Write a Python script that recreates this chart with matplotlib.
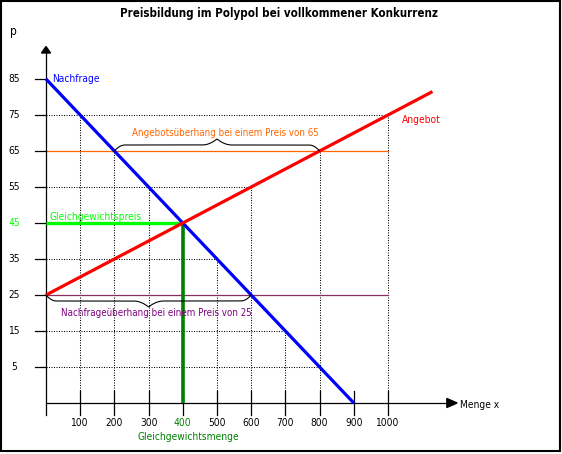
import numpy as np
import matplotlib
matplotlib.use("Agg")
import matplotlib.pyplot as plt
from matplotlib.patches import Rectangle

plt.rcParams['font.family'] = ['DejaVu Sans']
plt.rcParams['font.stretch'] = 'condensed'

# data
quantity_ticks = [100, 200, 300, 400, 500, 600, 700, 800, 900, 1000]
price_ticks = [5, 15, 25, 35, 45, 55, 65, 75, 85]
demand_x = [0, 900]
demand_p = [85, -5]
supply_x = [0, 1130]
supply_p = [25, 81.5]
eq_x, eq_p = 400, 45
surplus_price = 65    # Angebotsueberhang
shortage_price = 25   # Nachfrageueberhang
grid_prices = [5, 15, 35, 55, 75]

# pixel scale of the original drawing
QX = 0.342   # px per unit quantity
PY = 3.6     # px per unit price
OX, OY = 46, 385   # pixel of (0, 0)
W, H = 562, 454
FS = 7.3     # tick labels
FL = 7.0     # long labels


def qx(px):
    return px / QX


def py(px):
    return px / PY


fig = plt.figure(figsize=(W / 100, H / 100), dpi=100)
ax = fig.add_axes([0, 0, 1, 1])
ax.set_xlim(-OX / QX, (W - OX) / QX)
ax.set_ylim((OY - H) / PY, OY / PY)
ax.axis('off')

fig.patches.append(Rectangle((0.5 / W, 3 / H), 559 / W, 450 / H, transform=fig.transFigure,
                             fill=False, edgecolor='black', linewidth=1.5))

p_axis = -5
dot = (0, (1, 1.4))


def demand(x):
    return np.interp(x, demand_x, demand_p)


def supply(x):
    return np.interp(x, supply_x, supply_p)


def demand_inv(p):
    return np.interp(p, demand_p[::-1], demand_x[::-1])


def supply_inv(p):
    return (p - supply_p[0]) / (supply_p[1] - supply_p[0]) * (supply_x[1] - supply_x[0])


# dotted grid, drawn up to the curves
for x in quantity_ticks:
    if x == eq_x:
        continue
    tops = [v for v in (demand(x), supply(x)) if round(v, 3) in price_ticks]
    if tops:
        ax.plot([x, x], [p_axis, max(tops)], color='black', lw=0.75, ls=dot)
for p in grid_prices:
    ends = [v for v in (demand_inv(p), supply_inv(p)) if 0 <= v <= 1000]
    ax.plot([0, max(ends)], [p, p], color='black', lw=0.75, ls=dot)

# price lines
ax.plot([0, 1000], [surplus_price] * 2, color='#ff6600', lw=0.9)
ax.plot([0, 1000], [shortage_price] * 2, color='#8c2c64', lw=0.9)

# axes
ax.plot([0, 0], [p_axis - py(12), py(OY - 53)], color='black', lw=0.9)
ax.plot([0, 1172], [p_axis, p_axis], color='black', lw=0.9)
ax.fill([-qx(4.5), qx(4.5), 0], [py(OY - 53)] * 2 + [py(OY - 46.5)], color='black')
ax.fill([1172, 1172, 1202], [p_axis - py(4.5), p_axis + py(4.5), p_axis], color='black')
for x in quantity_ticks:
    ax.plot([x, x], [p_axis - py(12), p_axis + py(12)], color='black', lw=0.9)
    ax.text(x, p_axis - py(19.5), str(x), ha='center', va='center', fontsize=FS,
            color='#008000' if x == eq_x else 'black')
for p in price_ticks:
    ax.plot([-qx(11), 0], [p, p], color='black', lw=0.9)
    ax.text(-qx(31.5), p, str(p), ha='center', va='center', fontsize=FS,
            color='#00ff00' if p == eq_p else 'black')

# equilibrium lines
ax.plot([0, eq_x], [eq_p, eq_p], color='#00ff00', lw=2.4, solid_capstyle='butt')
ax.plot([eq_x, eq_x], [p_axis, eq_p], color='#008000', lw=2.6, solid_capstyle='butt')

# curves
ax.plot(demand_x, demand_p, color='#0000ff', lw=2.3, solid_capstyle='butt')
ax.plot(supply_x, supply_p, color='#ff0000', lw=2.3, solid_capstyle='butt')


def brace(x0, x1, p, sign, tip_at):
    L = (x1 - x0) * QX
    u = np.linspace(0, L, 400)
    end = np.minimum(np.minimum(u, L - u) / 10.5, 1)
    h = 6 * (1 - (1 - end) ** 2)
    c = (tip_at - x0) * QX
    d = np.clip(np.abs(u - c) / 15, 0, 1)
    h = h + 6 * (1 - d) ** 2
    ax.plot(x0 + u / QX, p + sign * h / PY, color='black', lw=0.8)


lo = demand_inv(surplus_price)
hi = supply_inv(surplus_price)
brace(lo, hi, surplus_price, 1, (lo + hi) / 2)
lo = supply_inv(shortage_price)
hi = demand_inv(shortage_price)
brace(lo, hi, shortage_price, -1, (lo + hi) / 2)

# labels
ax.text(qx(279 - OX), py(OY - 13), 'Preisbildung im Polypol bei vollkommener Konkurrenz',
        ha='center', va='center', fontsize=8.3, fontweight='bold')
ax.text(-qx(33), py(OY - 31), 'p', ha='center', va='center', fontsize=8.6)
ax.text(qx(460 - OX), p_axis - py(2), 'Menge x', ha='left', va='center', fontsize=FS)
ax.text(qx(6), 85, 'Nachfrage', ha='left', va='center', fontsize=FS, color='#0000ff')
ax.text(qx(402 - OX), py(OY - 120), 'Angebot', ha='left', va='center', fontsize=FS,
        color='#ff0000')
ax.text(qx(3), eq_p + py(6.5), 'Gleichgewichtspreis', ha='left', va='center', fontsize=FS,
        color='#00ff00')
ax.text(eq_x + qx(6), p_axis - py(33.5), 'Gleichgewichtsmenge', ha='center', va='center',
        fontsize=FS, color='#008000')
ax.text(qx(225.5 - OX), py(OY - 133.5), 'Angebotsüberhang bei einem Preis von 65',
        ha='center', va='center', fontsize=FL, color='#ff6600')
ax.text(qx(156.7 - OX), py(OY - 312.5), 'Nachfrageüberhang bei einem Preis von 25',
        ha='center', va='center', fontsize=FL, color='#800080')

fig.savefig('out.png', dpi=100)
